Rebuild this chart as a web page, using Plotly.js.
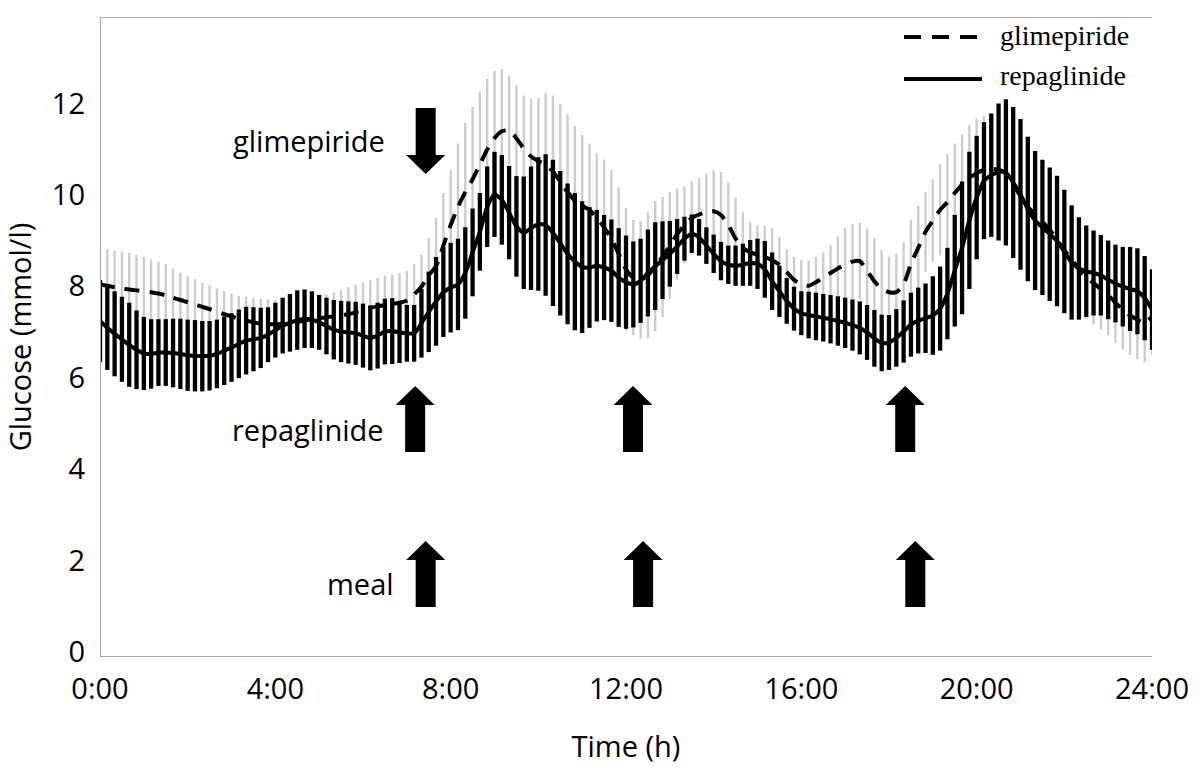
<!DOCTYPE html>
<html>
<head>
<meta charset="utf-8">
<script src="https://cdn.plot.ly/plotly-3.0.1.min.js"></script>
<style>html,body{margin:0;padding:0;background:#fff;}#chart{width:1200px;height:774px;}</style>
</head>
<body>
<div id="chart"></div>
<script>
// ---- data (10-minute samples, 0:00 .. 24:00) ----
var glimMean = [
 8.15, 8.12, 8.09, 8.06, 8.04, 8.02,
 8.0, 7.98, 7.95, 7.91, 7.86, 7.81,
 7.76, 7.71, 7.66, 7.61, 7.56, 7.5,
 7.45, 7.4, 7.36, 7.32, 7.29, 7.28,
 7.28, 7.29, 7.3, 7.33, 7.36, 7.39,
 7.41, 7.43, 7.45, 7.47, 7.5, 7.54,
 7.59, 7.64, 7.67, 7.7, 7.72, 7.75,
 7.8, 7.93, 8.1, 8.35, 8.55, 9.0,
 9.45, 9.85, 10.17, 10.45, 10.77, 11.1,
 11.35, 11.5, 11.52, 11.35, 11.12, 10.95,
 10.85, 10.77, 10.62, 10.4, 10.17, 9.98,
 9.87, 9.78, 9.6, 9.4, 9.15, 8.82,
 8.48, 8.3, 8.25, 8.35, 8.55, 8.75,
 9.0, 9.25, 9.45, 9.6, 9.68, 9.73,
 9.75, 9.67, 9.45, 9.15, 8.95, 8.85,
 8.8, 8.75, 8.68, 8.58, 8.42, 8.25,
 8.15, 8.12, 8.2, 8.3, 8.4, 8.5,
 8.58, 8.65, 8.66, 8.45, 8.22, 8.05,
 7.98, 7.98, 8.15, 8.6, 8.95, 9.3,
 9.55, 9.78, 9.95, 10.15, 10.33, 10.48,
 10.58, 10.66, 10.68, 10.66, 10.58, 10.35,
 10.08, 9.85, 9.68, 9.52, 9.35, 9.12,
 8.9, 8.7, 8.48, 8.3, 8.18, 8.05,
 7.92, 7.75, 7.6, 7.47, 7.38, 7.3,
 7.45
];
var glimErr = [
 0.8, 0.8, 0.8, 0.8, 0.8, 0.78,
 0.75, 0.72, 0.7, 0.68, 0.64, 0.6,
 0.57, 0.55, 0.53, 0.52, 0.5, 0.5,
 0.5, 0.5, 0.52, 0.54, 0.54, 0.54,
 0.53, 0.52, 0.52, 0.51, 0.5, 0.5,
 0.5, 0.5, 0.52, 0.56, 0.59, 0.6,
 0.6, 0.6, 0.62, 0.64, 0.65, 0.65,
 0.65, 0.67, 0.7, 0.82, 1.05, 1.15,
 1.2, 1.38, 1.52, 1.58, 1.6, 1.55,
 1.47, 1.36, 1.2, 1.15, 1.16, 1.25,
 1.38, 1.56, 1.66, 1.7, 1.7, 1.64,
 1.55, 1.45, 1.42, 1.48, 1.5, 1.45,
 1.34, 1.26, 1.28, 1.38, 1.42, 1.32,
 1.17, 1.0, 0.84, 0.8, 0.8, 0.83,
 0.9, 0.94, 0.93, 0.9, 0.78, 0.66,
 0.64, 0.68, 0.7, 0.6, 0.5, 0.5,
 0.54, 0.55, 0.55, 0.55, 0.6, 0.7,
 0.8, 0.82, 0.84, 0.92, 0.95, 0.85,
 0.78, 0.85, 0.92, 0.97, 0.92, 0.87,
 0.9, 1.0, 1.05, 1.08, 1.1, 1.15,
 1.2, 1.18, 1.15, 1.12, 1.1, 1.08,
 1.05, 1.03, 1.0, 0.98, 0.96, 0.95,
 0.93, 0.92, 0.91, 0.9, 0.9, 0.89,
 0.88, 0.88, 0.87, 0.86, 0.86, 0.85,
 0.85
];
var repMean = [
 7.35, 7.2, 7.07, 6.95, 6.83, 6.72,
 6.64, 6.63, 6.66, 6.66, 6.65, 6.63,
 6.6, 6.59, 6.58, 6.59, 6.63, 6.7,
 6.77, 6.85, 6.92, 6.95, 6.98, 7.05,
 7.15, 7.25, 7.31, 7.37, 7.4, 7.38,
 7.32, 7.24, 7.16, 7.12, 7.1, 7.08,
 7.03, 6.98, 7.03, 7.12, 7.13, 7.1,
 7.08, 7.08, 7.3, 7.55, 7.78, 7.98,
 8.08, 8.15, 8.4, 8.85, 9.3, 9.85,
 10.12, 10.0, 9.72, 9.42, 9.28, 9.38,
 9.47, 9.45, 9.28, 9.05, 8.82, 8.65,
 8.53, 8.52, 8.56, 8.52, 8.45, 8.3,
 8.2, 8.15, 8.23, 8.4, 8.55, 8.68,
 8.82, 8.98, 9.15, 9.26, 9.18, 9.0,
 8.82, 8.66, 8.58, 8.56, 8.58, 8.62,
 8.6, 8.48, 8.22, 8.0, 7.79, 7.62,
 7.52, 7.48, 7.45, 7.42, 7.39, 7.35,
 7.31, 7.26, 7.2, 7.1, 6.97, 6.87,
 6.88, 6.98, 7.12, 7.27, 7.36, 7.41,
 7.47, 7.62, 7.95, 8.45, 8.95, 9.55,
 10.05, 10.42, 10.54, 10.61, 10.6, 10.38,
 10.12, 9.8, 9.55, 9.4, 9.25, 9.1,
 8.87, 8.63, 8.5, 8.44, 8.4, 8.35,
 8.25, 8.17, 8.1, 8.05, 8.0, 7.85,
 7.6
];
var repErr = [
 0.9, 0.92, 0.93, 0.93, 0.92, 0.86,
 0.8, 0.76, 0.73, 0.73, 0.75, 0.77,
 0.78, 0.78, 0.77, 0.76, 0.75, 0.75,
 0.75, 0.75, 0.74, 0.7, 0.66, 0.6,
 0.6, 0.61, 0.63, 0.65, 0.64, 0.62,
 0.6, 0.62, 0.65, 0.67, 0.68, 0.69,
 0.7, 0.71, 0.72, 0.72, 0.72, 0.67,
 0.62, 0.62, 0.75, 0.88, 0.97, 0.98,
 0.98, 1.0, 1.0, 0.96, 0.85, 0.88,
 0.93, 0.98, 1.02, 1.1, 1.23, 1.35,
 1.46, 1.55, 1.6, 1.58, 1.54, 1.5,
 1.44, 1.32, 1.22, 1.15, 1.12, 1.08,
 1.02, 0.94, 0.92, 0.95, 0.96, 0.85,
 0.72, 0.6, 0.48, 0.42, 0.4, 0.4,
 0.42, 0.42, 0.42, 0.44, 0.46, 0.5,
 0.55, 0.62, 0.63, 0.56, 0.5, 0.48,
 0.48, 0.51, 0.52, 0.52, 0.53, 0.54,
 0.55, 0.56, 0.58, 0.6, 0.62, 0.62,
 0.6, 0.63, 0.68, 0.7, 0.72, 0.76,
 0.86, 0.92, 1.0, 1.22, 1.45, 1.5,
 1.35, 1.28, 1.35, 1.5, 1.6, 1.65,
 1.65, 1.58, 1.52, 1.48, 1.46, 1.43,
 1.35, 1.25, 1.12, 1.0, 0.93, 0.88,
 0.86, 0.85, 0.87, 0.92, 0.94, 0.92,
 0.88
];
var tickHours = [0, 4, 8, 12, 16, 20, 24];
var tickLabels = ['0:00', '4:00', '8:00', '12:00', '16:00', '20:00', '24:00'];
var yTicks = [0, 2, 4, 6, 8, 10, 12];
var seriesNames = ['glimepiride', 'repaglinide'];
// dosing / meal times (hours)
var glimDoseTimes = [7.43];
var repDoseTimes = [7.19, 12.16, 18.37];
var mealTimes = [7.43, 12.39, 18.6];

// ---- sample grid: every 10 minutes ----
var hours = [];
for (var i = 0; i < glimMean.length; i++) hours.push(i / 6);

// ---- geometry helpers (pixel <-> data) ----
var L = 100, R = 48, T = 17, B = 117, W = 1200, H = 774;
var plotW = W - L - R, plotH = H - T - B;
var XMAX = 24, YMAX = 14;
function pxX(px) { return (px - L) / plotW * XMAX; }
function pxY(py) { return (H - B - py) / plotH * YMAX; }
function dX(px) { return px / plotW * XMAX; }
function dY(px) { return px / plotH * YMAX; }

function arrowPath(t, tipPx, basePx, endPx, headHalf, shaftHalf) {
  var tip = pxY(tipPx), base = pxY(basePx), end = pxY(endPx);
  var hw = dX(headHalf), sw = dX(shaftHalf);
  return 'M' + (t - sw) + ',' + end + ' L' + (t - sw) + ',' + base + ' L' + (t - hw) + ',' + base +
    ' L' + t + ',' + tip + ' L' + (t + hw) + ',' + base + ' L' + (t + sw) + ',' + base +
    ' L' + (t + sw) + ',' + end + ' Z';
}

var shapes = [];
function addArrow(t, tipPx, basePx, endPx) {
  shapes.push({type: 'path', xref: 'x', yref: 'y', path: arrowPath(t, tipPx, basePx, endPx, 19.5, 10),
    fillcolor: '#000', line: {width: 0}});
}
glimDoseTimes.forEach(function (t) { addArrow(t, 174, 155, 108); });
repDoseTimes.forEach(function (t) { addArrow(t, 386, 405, 452); });
mealTimes.forEach(function (t) { addArrow(t, 541, 560, 607); });

// axis frame lines
var axisCol = '#a6a6a6';
shapes.push({type: 'line', xref: 'x', yref: 'y', x0: pxX(91), x1: XMAX, y0: 0, y1: 0, line: {color: axisCol, width: 2}});
shapes.push({type: 'line', xref: 'x', yref: 'y', x0: pxX(92), x1: XMAX, y0: YMAX, y1: YMAX, line: {color: axisCol, width: 2}});
shapes.push({type: 'line', xref: 'x', yref: 'y', x0: 0, x1: 0, y0: 0, y1: YMAX, line: {color: axisCol, width: 2}});
// manual legend samples
shapes.push({type: 'line', xref: 'x', yref: 'y', x0: pxX(904), x1: pxX(979), y0: pxY(37), y1: pxY(37),
  line: {color: '#000', width: 4, dash: '17px,11px'}});
shapes.push({type: 'line', xref: 'x', yref: 'y', x0: pxX(904), x1: pxX(982), y0: pxY(79), y1: pxY(79),
  line: {color: '#000', width: 4}});

var sansFont = {family: 'Open Sans, sans-serif', size: 29, color: '#000'};
var serifFont = {family: 'Liberation Serif, serif', size: 28, color: '#000'};

var annotations = [
  {text: 'glimepiride', x: pxX(387), y: pxY(140), xanchor: 'right', yanchor: 'middle', showarrow: false, font: sansFont},
  {text: 'repaglinide', x: pxX(386), y: pxY(429), xanchor: 'right', yanchor: 'middle', showarrow: false, font: sansFont},
  {text: 'meal', x: pxX(396), y: pxY(583), xanchor: 'right', yanchor: 'middle', showarrow: false, font: sansFont},
  {text: seriesNames[0], x: pxX(998), y: pxY(35), xanchor: 'left', yanchor: 'middle', showarrow: false, font: serifFont},
  {text: seriesNames[1], x: pxX(998), y: pxY(75), xanchor: 'left', yanchor: 'middle', showarrow: false, font: serifFont}
];

var traces = [
  {x: hours, y: glimMean, type: 'scatter', mode: 'markers', marker: {size: 1, color: 'rgba(0,0,0,0)'},
   error_y: {type: 'data', array: glimErr, visible: true, color: '#cccccc', thickness: 2.4, width: 0},
   showlegend: false, hoverinfo: 'skip'},
  {x: hours, y: repMean, type: 'scatter', mode: 'markers', marker: {size: 1, color: 'rgba(0,0,0,0)'},
   error_y: {type: 'data', array: repErr, visible: true, color: '#000', thickness: 4.3, width: 0},
   showlegend: false, hoverinfo: 'skip'},
  {x: hours, y: glimMean, type: 'scatter', mode: 'lines', name: seriesNames[0],
   line: {color: '#000', width: 4, dash: '15px,10px', shape: 'spline', smoothing: 0.6}, showlegend: false},
  {x: hours, y: repMean, type: 'scatter', mode: 'lines', name: seriesNames[1],
   line: {color: '#000', width: 4, shape: 'spline', smoothing: 0.6}, showlegend: false}
];

var layout = {
  width: W, height: H,
  margin: {l: L, r: R, t: T, b: B, pad: 0},
  paper_bgcolor: '#fff', plot_bgcolor: '#fff',
  showlegend: false,
  hovermode: false,
  font: sansFont,
  xaxis: {
    range: [0, XMAX], tickmode: 'array', tickvals: tickHours, ticktext: tickLabels,
    showgrid: false, zeroline: false, showline: false, ticks: '', ticklabelstandoff: 12,
    tickfont: sansFont, automargin: false,
    title: {text: 'Time (h)', font: sansFont, standoff: 30}
  },
  yaxis: {
    range: [0, YMAX], tickmode: 'array', tickvals: yTicks,
    showgrid: false, zeroline: false, showline: false, ticks: '', ticklabelstandoff: 14,
    ticklabelshift: -5,
    tickfont: sansFont, automargin: false,
    title: {text: 'Glucose (mmol/l)', font: sansFont, standoff: 12}
  },
  shapes: shapes,
  annotations: annotations
};

Plotly.newPlot('chart', traces, layout, {displayModeBar: false, staticPlot: true});
</script>
</body>
</html>
